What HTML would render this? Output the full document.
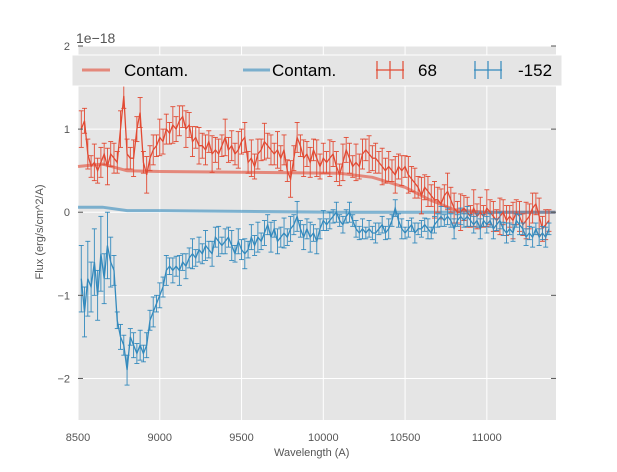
<!DOCTYPE html>
<html><head><meta charset="utf-8"><style>
body{margin:0;background:#fff;font-family:"Liberation Sans","DejaVu Sans",sans-serif}
svg text{font-family:"Liberation Sans","DejaVu Sans",sans-serif}
</style></head><body>
<svg id="chart" width="617" height="467" xmlns="http://www.w3.org/2000/svg">
<rect x="78" y="46" width="478" height="374" fill="#e5e5e5"/>
<g id="grid"></g><g id="series"></g><g id="axes"></g>
<g id="legend">
<rect x="72" y="55" width="490" height="31" fill="#e5e5e5" stroke="#ffffff"/>
<line x1="82" y1="70" x2="110" y2="70" stroke="#e24a33" stroke-opacity="0.6" stroke-width="3"/>
<text x="124" y="76" font-size="17">Contam.</text>
<line x1="243" y1="70" x2="270" y2="70" stroke="#348abd" stroke-opacity="0.6" stroke-width="3"/>
<text x="272" y="76" font-size="17">Contam.</text>
<g stroke="#e24a33" stroke-width="1.2"><line x1="376" y1="70" x2="404" y2="70"/><line x1="390" y1="61" x2="390" y2="79"/><line x1="377" y1="61" x2="377" y2="79"/><line x1="403" y1="61" x2="403" y2="79"/></g>
<text x="418" y="76" font-size="17">68</text>
<g stroke="#348abd" stroke-width="1.2"><line x1="474" y1="70" x2="502" y2="70"/><line x1="488" y1="61" x2="488" y2="79"/><line x1="475" y1="61" x2="475" y2="79"/><line x1="501" y1="61" x2="501" y2="79"/></g>
<text x="518" y="76" font-size="17">-152</text>
</g>
</svg>
<script>
const startW=8520, stepW=20;
const red=[1.0,1.1,0.7,0.55,0.6,0.5,0.6,0.7,0.55,0.7,0.65,0.6,1.0,1.4,0.7,0.65,0.65,1.0,1.2,0.6,0.45,0.65,0.75,0.8,0.9,0.85,1.0,0.95,1.05,1.0,1.1,1.15,1.0,1.05,0.85,0.9,0.8,0.8,0.75,0.85,0.7,0.75,0.7,0.8,0.9,0.75,0.8,0.7,0.75,0.85,0.9,0.6,0.65,0.55,0.7,0.75,0.85,0.8,0.75,0.7,0.75,0.65,0.75,0.5,0.4,0.65,0.9,0.8,0.65,0.7,0.6,0.75,0.65,0.55,0.65,0.6,0.65,0.7,0.55,0.45,0.6,0.75,0.65,0.55,0.6,0.55,0.7,0.75,0.7,0.65,0.65,0.6,0.55,0.5,0.55,0.5,0.45,0.55,0.5,0.55,0.45,0.4,0.35,0.3,0.2,0.3,0.25,0.2,0.15,0.15,0.1,0.2,0.25,0.15,0.05,0.0,0.0,0.05,0.0,-0.05,0.05,-0.05,0.0,-0.05,0.05,0.0,-0.05,-0.1,-0.05,0.0,-0.1,-0.05,-0.1,0.0,-0.05,-0.15,-0.1,-0.05,0.05,0.1,-0.05,-0.2,-0.15,-0.1];
const blue=[-0.8,-1.2,-0.8,-0.9,-0.6,-1.0,-0.5,-0.8,-0.4,-0.6,-0.7,-1.3,-1.5,-1.6,-1.9,-1.5,-1.6,-1.7,-1.6,-1.7,-1.6,-1.3,-1.2,-1.1,-1.0,-0.9,-0.7,-0.65,-0.7,-0.65,-0.7,-0.6,-0.65,-0.55,-0.5,-0.55,-0.45,-0.5,-0.4,-0.45,-0.5,-0.3,-0.35,-0.4,-0.35,-0.3,-0.4,-0.5,-0.35,-0.45,-0.5,-0.45,-0.3,-0.4,-0.3,-0.35,-0.25,-0.15,-0.3,-0.2,-0.35,-0.3,-0.25,-0.3,-0.2,-0.15,-0.05,-0.2,-0.3,-0.2,-0.3,-0.25,-0.35,-0.2,-0.1,-0.15,-0.1,-0.05,0.0,-0.1,-0.15,-0.05,0.0,-0.1,-0.2,-0.25,-0.2,-0.25,-0.2,-0.25,-0.25,-0.2,-0.15,-0.25,-0.2,-0.1,0.05,-0.1,-0.2,-0.25,-0.2,-0.15,-0.25,-0.2,-0.2,-0.15,-0.2,-0.25,-0.15,-0.1,-0.05,-0.1,-0.05,-0.1,-0.2,-0.1,-0.05,-0.1,-0.05,-0.1,-0.15,-0.1,-0.2,-0.1,-0.15,-0.1,-0.2,-0.15,-0.1,-0.2,-0.25,-0.2,-0.25,-0.1,-0.15,-0.2,-0.3,-0.25,-0.3,-0.2,-0.3,-0.25,-0.3,-0.2];
const redErr=[0.22,0.15,0.18,0.13];
const blueErrEarly=[0.4,0.3,0.45,0.3];
const blueErrMid=[0.15,0.12,0.18,0.1];
const blueErrLate=[0.1,0.08,0.12,0.07];
const contamW=[8500,8650,8800,9000,9500,10100,10300,10500,10650,10800,11000,11420];
const contamRed=[0.55,0.58,0.5,0.49,0.48,0.47,0.42,0.3,0.15,0.03,0.0,0.0];
const contamBlue=[0.06,0.06,0.02,0.02,0.01,0.0,0.0,0.0,0.0,0.0,0.0,0.0];
const xTicks=[8500,9000,9500,10000,10500,11000];
const yTicks=[2,1,0,-1,-2];
const yTickLabels=["2","1","0","\u22121","\u22122"];

const X0=78,X1=556,Y0=46,Y1=420,xmin=8500,xmax=11423,ymin=-2.5,ymax=2;
const sx=w=>X0+(w-xmin)/(xmax-xmin)*(X1-X0);
const sy=v=>Y1-(v-ymin)/(ymax-ymin)*(Y1-Y0);
const NS="http://www.w3.org/2000/svg";
function mk(parent,tag,attrs){const e=document.createElementNS(NS,tag);for(const k in attrs)e.setAttribute(k,attrs[k]);parent.appendChild(e);return e;}
const grid=document.getElementById('grid'),ser=document.getElementById('series'),ax=document.getElementById('axes');
xTicks.forEach(t=>{const l=mk(grid,'line',{x1:sx(t),x2:sx(t),y1:Y0,y2:Y1,stroke:'#fff'});


const tx=mk(ax,'text',{x:sx(t),y:441,'font-size':11,fill:'#555','text-anchor':'middle'});tx.textContent=t;

});
yTicks.forEach((t,i)=>{const l=mk(grid,'line',{x1:X0,x2:X1,y1:sy(t),y2:sy(t),stroke:'#fff'});


mk(ax,'line',{x1:X1-5,x2:X1,y1:sy(t),y2:sy(t),stroke:'#555'});
mk(ax,'line',{x1:X0,x2:X0+5,y1:sy(t),y2:sy(t),stroke:'#555'});
const tx=mk(ax,'text',{x:70,y:sy(t)+4,'font-size':11,fill:'#555','text-anchor':'end'});tx.textContent=yTickLabels[i];

});
function line(ws,vs,color,width,op,name){const d=ws.map((w,i)=>(i?'L':'M')+sx(w).toFixed(1)+','+sy(vs[i]).toFixed(1)).join('');
const p=mk(ser,'path',{d:d,fill:'none',stroke:color,'stroke-width':width,'stroke-opacity':op});

}
line(contamW,contamRed,'#e24a33',3,0.6,'contam-red-line');
line(contamW,contamBlue,'#348abd',3,0.6,'contam-blue-line');
function errs(vals,errFn,color,name){const ws=vals.map((v,i)=>startW+i*stepW);
const g=mk(ser,'g',{stroke:color,'stroke-width':0.9});


vals.forEach((v,i)=>{const e=errFn(i);const x=sx(ws[i]),a=sy(v+e),b=sy(v-e);
mk(g,'line',{x1:x,x2:x,y1:a,y2:b});mk(g,'line',{x1:x-2.5,x2:x+2.5,y1:a,y2:a});mk(g,'line',{x1:x-2.5,x2:x+2.5,y1:b,y2:b});});
line(ws,vals,color,1.3,1,name+'-line');}
errs(red,i=>redErr[i%redErr.length],'#e24a33','series-68');
errs(blue,i=>{const w=startW+i*stepW;const a=w<8720?blueErrEarly:(w<10000?blueErrMid:blueErrLate);return a[i%a.length];},'#348abd','series-minus-152');
</script>
<div style="position:absolute;left:76px;top:30px;font-size:14px;color:#555">1e−18</div>
<div style="position:absolute;left:274px;top:447px;font-size:11px;color:#555">Wavelength (A)</div>
<div style="position:absolute;left:-20px;top:226px;width:120px;text-align:center;font-size:11px;color:#555;transform:rotate(-90deg)">Flux (erg/s/cm^2/A)</div>
</body></html>
